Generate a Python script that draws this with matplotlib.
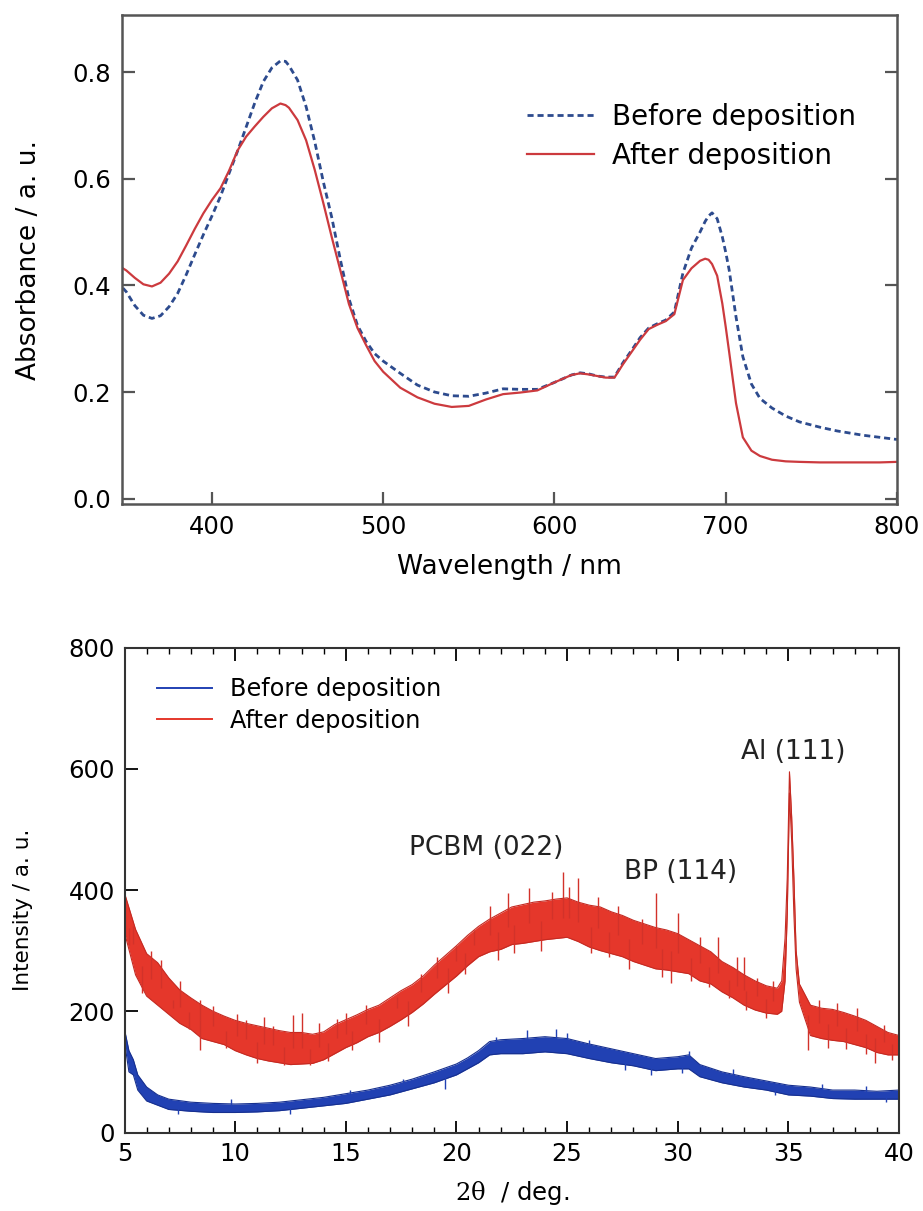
import numpy as np
import matplotlib
matplotlib.use("Agg")
import matplotlib.pyplot as plt
from matplotlib.ticker import MultipleLocator, FormatStrFormatter

plt.rcParams["font.family"] = ["DejaVu Sans"]
plt.rcParams["mathtext.fontset"] = "dejavuserif"

# ---------------- UV-vis absorbance ----------------
wavelength = [348, 350, 355, 360, 365, 370, 375, 380, 385, 390, 395, 400, 405, 410,
              415, 420, 425, 430, 435, 440, 443, 445, 450, 455, 460, 465, 470, 475,
              480, 485, 490, 495, 500, 510, 520, 530, 540, 550, 560, 570, 580, 590,
              600, 610, 615, 620, 625, 630, 635, 640, 645, 650, 655, 660, 665, 670,
              675, 680, 685, 688, 690, 692, 695, 698, 700, 702, 706, 710, 715, 720,
              727, 735, 743, 755, 765, 780, 790, 800]
abs_before = [0.395, 0.388, 0.362, 0.344, 0.338, 0.343, 0.360, 0.385, 0.420, 0.458,
              0.495, 0.530, 0.567, 0.610, 0.652, 0.697, 0.742, 0.782, 0.808, 0.821,
              0.820, 0.812, 0.785, 0.735, 0.670, 0.595, 0.527, 0.448, 0.375, 0.325,
              0.295, 0.272, 0.258, 0.235, 0.213, 0.200, 0.193, 0.192, 0.198, 0.206,
              0.205, 0.205, 0.218, 0.232, 0.236, 0.234, 0.230, 0.228, 0.228, 0.255,
              0.278, 0.302, 0.320, 0.328, 0.335, 0.350, 0.423, 0.470, 0.500, 0.520,
              0.530, 0.536, 0.525, 0.491, 0.462, 0.429, 0.341, 0.266, 0.215, 0.188,
              0.170, 0.155, 0.144, 0.134, 0.127, 0.119, 0.115, 0.111]
abs_after = [0.432, 0.428, 0.414, 0.402, 0.398, 0.405, 0.422, 0.445, 0.475, 0.506,
             0.535, 0.560, 0.582, 0.615, 0.653, 0.679, 0.698, 0.716, 0.732, 0.741,
             0.738, 0.733, 0.710, 0.672, 0.617, 0.555, 0.490, 0.428, 0.365, 0.320,
             0.288, 0.258, 0.238, 0.208, 0.190, 0.178, 0.172, 0.174, 0.186, 0.196,
             0.199, 0.203, 0.218, 0.232, 0.235, 0.233, 0.230, 0.227, 0.227, 0.252,
             0.275, 0.298, 0.318, 0.326, 0.333, 0.346, 0.410, 0.432, 0.446, 0.450,
             0.448, 0.440, 0.418, 0.366, 0.322, 0.275, 0.179, 0.115, 0.090, 0.080,
             0.073, 0.070, 0.069, 0.068, 0.068, 0.068, 0.068, 0.069]

# ---------------- XRD patterns (noise band limits) ----------------
theta_after = [5.0, 5.5, 6.0, 6.5, 7.0, 7.5, 8.0, 8.5, 9.0, 9.5, 10.0, 10.5, 11.0, 11.5,
               12.0, 12.5, 13.0, 13.5, 14.0, 14.5, 15.0, 15.5, 16.0, 16.5, 17.0, 17.5,
               18.0, 18.5, 19.0, 19.5, 20.0, 20.5, 21.0, 21.5, 22.0, 22.5, 23.0, 23.5,
               24.0, 24.5, 25.0, 25.5, 26.0, 26.5, 27.0, 27.5, 28.0, 28.5, 29.0, 29.5,
               30.0, 30.5, 31.0, 31.5, 32.0, 32.5, 33.0, 33.5, 34.0, 34.5, 34.7, 34.85,
               34.95, 35.05, 35.15, 35.25, 35.35, 35.5, 36.0, 36.5, 37.0, 37.5, 38.0,
               38.5, 39.0, 39.5, 40.0]
after_low = [330, 260, 225, 210, 195, 180, 170, 155, 150, 145, 135, 128, 122, 118,
             115, 112, 113, 114, 120, 130, 140, 148, 158, 165, 175, 186, 198, 212,
             228, 243, 258, 275, 290, 298, 302, 310, 312, 315, 318, 320, 322, 315,
             306, 300, 295, 290, 282, 276, 270, 268, 265, 262, 250, 245, 232, 222,
             210, 202, 197, 195, 200, 250, 360, 560, 480, 360, 270, 215, 160, 155,
             152, 150, 145, 140, 132, 128, 128]
after_high = [395, 335, 295, 280, 255, 235, 222, 210, 200, 192, 185, 180, 176, 172,
              168, 165, 165, 162, 166, 178, 186, 194, 203, 210, 222, 234, 244, 258,
              276, 292, 308, 325, 340, 352, 362, 372, 376, 380, 382, 385, 387, 380,
              375, 372, 364, 358, 350, 344, 338, 334, 328, 318, 308, 298, 282, 272,
              260, 250, 242, 238, 250, 320, 420, 595, 520, 420, 300, 245, 210, 205,
              203, 198, 192, 185, 175, 165, 160]
after_spike_x = [5.2, 5.4, 5.8, 6.2, 6.66, 7.2, 7.5, 7.9, 8.4, 8.4, 9.0, 9.6, 10.1,
                 10.5, 11.0, 11.3, 11.7, 12.2, 12.6, 13.0, 13.4, 13.8, 14.2, 14.6,
                 15.0, 15.3, 15.9, 16.5, 17.3, 17.8, 18.4, 19.1, 19.6, 20.0, 20.4,
                 20.8, 21.5, 21.9, 22.35, 22.6, 23.3, 23.8, 24.3, 24.8, 25.1, 25.5,
                 26.1, 26.4, 26.9, 27.3, 27.8, 28.4, 29.0, 29.3, 29.7, 30.0, 30.6,
                 31.0, 31.4, 31.8, 32.3, 32.7, 33.0, 33.1, 33.6, 34.0, 34.3, 35.9,
                 36.4, 36.8, 37.2, 37.6, 38.1, 38.5, 38.9, 39.3, 39.7]
after_spike_y = [310, 340, 230, 300, 284, 205, 250, 170, 218, 136, 208, 140, 195,
                 186, 115, 190, 175, 111, 193, 197, 112, 180, 118, 188,
                 197, 136, 210, 150, 224, 175, 262, 290, 230, 307, 262,
                 334, 373, 285, 395, 296, 403, 300, 397, 430, 405, 420,
                 296, 389, 290, 373, 270, 352, 395, 257, 246, 362, 250,
                 323, 240, 323, 222, 290, 290, 202, 255, 189, 250, 136,
                 218, 140, 213, 138, 205, 130, 115, 178, 120]

theta_before = [5.0, 5.2, 5.4, 5.6, 6.0, 6.5, 7.0, 8.0, 9.0, 10.0, 11.0, 12.0, 13.0,
                14.0, 15.0, 16.0, 17.0, 18.0, 19.0, 20.0, 20.5, 21.0, 21.5, 22.0,
                23.0, 24.0, 25.0, 26.0, 27.0, 28.0, 29.0, 30.0, 30.5, 31.0, 32.0,
                33.0, 34.0, 35.0, 36.0, 37.0, 38.0, 39.0, 40.0]
before_low = [150, 100, 95, 70, 52, 45, 38, 35, 33, 33, 34, 36, 40, 44, 48, 55, 62,
              72, 82, 95, 105, 115, 128, 130, 130, 133, 130, 122, 115, 110, 102,
              105, 105, 92, 82, 75, 70, 62, 60, 56, 55, 55, 55]
before_high = [170, 135, 120, 95, 75, 62, 55, 50, 48, 47, 48, 50, 54, 58, 64, 70, 78,
               88, 100, 113, 123, 135, 150, 153, 155, 158, 155, 146, 138, 130, 122,
               125, 128, 112, 100, 92, 85, 78, 75, 70, 70, 68, 70]
before_spike_x = [5.3, 7.4, 9.8, 12.5, 15.2, 17.6, 19.5, 21.8, 23.2, 24.5, 25.0, 26.0,
                  27.6, 28.8, 30.2, 30.5, 32.5, 34.4, 36.5, 38.5, 39.4]
before_spike_y = [110, 30, 56, 30, 70, 88, 72, 158, 169, 171, 164, 152,
                  103, 95, 98, 135, 105, 62, 80, 76, 50]

peak_labels = ["PCBM (022)", "BP (114)", "Al (111)"]
peak_label_pos = [(21.35, 469), (30.15, 430), (35.2, 627)]

# ---------------- figure ----------------
W, H = 923, 1211
fig = plt.figure(figsize=(W / 100, H / 100), dpi=100)


def frac(x0, y0, x1, y1):
    return [x0 / W, 1 - y1 / H, (x1 - x0) / W, (y1 - y0) / H]


# top panel: absorbance spectra
ax1 = fig.add_axes(frac(122, 15, 897, 504))
c_before1 = "#2d4b8e"
c_after1 = "#cc3a3e"
ax1.plot(wavelength, abs_before, color=c_before1, lw=2.0, ls=(0, (2.2, 1.4)),
         label="Before deposition")
ax1.plot(wavelength, abs_after, color=c_after1, lw=1.6, label="After deposition")
ax1.set_xlim(347.5, 800)
ax1.set_ylim(-0.01, 0.907)
ax1.set_xticks([400, 500, 600, 700, 800])
ax1.set_yticks([0.0, 0.2, 0.4, 0.6, 0.8])
ax1.yaxis.set_major_formatter(FormatStrFormatter("%.1f"))
ax1.tick_params(direction="in", length=9, width=1.6, color="#555555",
                labelsize=17.5, left=True, right=True, bottom=True, top=False, pad=8)
for s in ax1.spines.values():
    s.set_color("#555555")
    s.set_linewidth(1.8)
ax1.set_xlabel("Wavelength / nm", fontsize=19, labelpad=11)
ax1.set_ylabel("Absorbance / a. u.", fontsize=19, labelpad=22)
ax1.legend(loc="upper left", bbox_to_anchor=(527 / W, 1 - 103 / H),
           bbox_transform=fig.transFigure, frameon=False, fontsize=20,
           handlelength=2.4, handletextpad=0.65, labelspacing=0.38,
           borderpad=0, borderaxespad=0)

# bottom panel: XRD patterns
ax2 = fig.add_axes(frac(124.5, 647.5, 899, 1132.5))
c_red = "#e5372b"
c_blue = "#2141b3"
ta = np.array(theta_after)
tb = np.array(theta_before)
alo, ahi = np.array(after_low), np.array(after_high)
blo, bhi = np.array(before_low), np.array(before_high)

ax2.fill_between(tb, blo, bhi, color=c_blue, lw=0)
ax2.plot(tb, blo, color="#17308f", lw=0.8)
ax2.plot(tb, bhi, color="#17308f", lw=0.8)
ax2.vlines(before_spike_x, np.interp(before_spike_x, tb, (blo + bhi) / 2),
           before_spike_y, color=c_blue, lw=1.0)
ax2.fill_between(ta, alo, ahi, color=c_red, lw=0)
ax2.plot(ta, alo, color="#c42a22", lw=0.8)
ax2.plot(ta, ahi, color="#c42a22", lw=0.8)
ax2.vlines(after_spike_x, np.interp(after_spike_x, ta, (alo + ahi) / 2),
           after_spike_y, color="#d2322a", lw=1.0)

ax2.plot([], [], color=c_blue, lw=1.4, label="Before deposition")
ax2.plot([], [], color=c_red, lw=1.4, label="After deposition")

for txt, (px, py) in zip(peak_labels, peak_label_pos):
    ax2.text(px, py, txt, ha="center", va="center", fontsize=19, color="#222222")

ax2.set_xlim(5, 40)
ax2.set_ylim(0, 800)
ax2.set_xticks([5, 10, 15, 20, 25, 30, 35, 40])
ax2.set_yticks([0, 200, 400, 600, 800])
ax2.xaxis.set_minor_locator(MultipleLocator(1))
ax2.tick_params(axis="both", which="major", direction="in", length=9, width=1.3,
                labelsize=17.5, pad=7)
ax2.tick_params(axis="x", which="both", top=True, bottom=True)
ax2.tick_params(axis="x", which="minor", direction="in", length=4, width=1.0)
ax2.tick_params(axis="y", right=False)
for s in ax2.spines.values():
    s.set_color("#333333")
    s.set_linewidth(1.5)
ax2.set_xlabel(r"$\mathrm{2\theta}$  / deg.", fontsize=17.5, labelpad=9)
ax2.set_ylabel("Intensity / a. u.", fontsize=15.5)
ax2.yaxis.set_label_coords(-0.118, 0.459)
ax2.legend(loc="upper left", bbox_to_anchor=(157 / W, 1 - 677 / H),
           bbox_transform=fig.transFigure, frameon=False, fontsize=17.3,
           handlelength=2.3, handletextpad=0.75, labelspacing=0.32,
           borderpad=0, borderaxespad=0)

fig.savefig("out.png", dpi=100)
